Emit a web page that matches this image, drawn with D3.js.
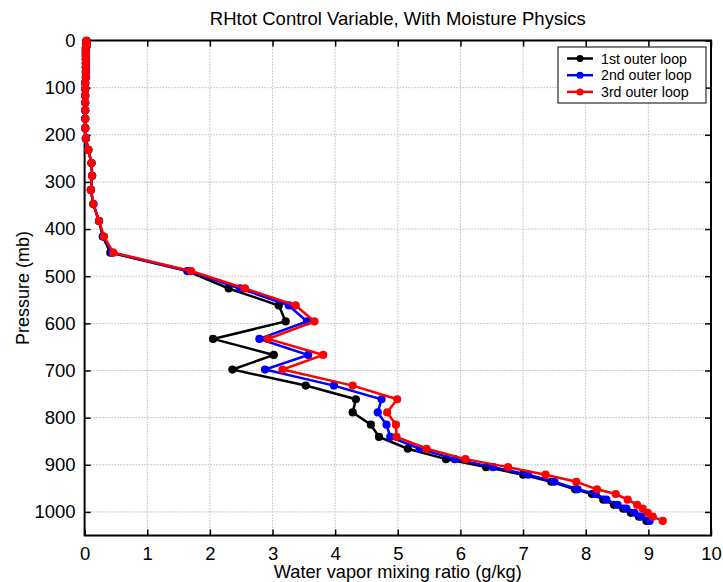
<!DOCTYPE html>
<html>
  <head>
    <meta charset="utf-8">
    <title>RHtot Control Variable</title>
    <script src="https://d3js.org/d3.v7.min.js"></script>
    <style>
      body { margin: 0; background: #fff; }
      text { font-family: "Liberation Sans", Arial, sans-serif; fill: #000; }
    </style>
  </head>
  <body>
    <svg width="723" height="582"></svg>

    <script>
      // pressure levels (mb), shared by all three runs
      const pressure = [1, 3, 5, 8, 12, 16, 21, 27, 33, 40, 48, 57, 67, 78, 90, 103, 117, 132, 148, 166, 186, 208,
        232, 260, 287, 317, 347, 383, 416, 450,
        489, 526, 562, 596, 633, 667, 698, 732,
        761, 789, 815, 841, 866, 888, 905, 921,
        936, 952, 962, 974, 985, 993, 1002, 1010, 1019];

      // water vapor mixing ratio (g/kg)
      const loop1 = [0.03, 0.03, 0.03, 0.03, 0.03, 0.02, 0.02, 0.02, 0.02, 0.02, 0.02, 0.02, 0.02, 0.02, 0.01, 0.01, 0.01, 0.01, 0.01, 0.01, 0.01, 0.02,
        0.06, 0.11, 0.12, 0.10, 0.14, 0.23, 0.29, 0.41,
        1.64, 2.30, 3.10, 3.21, 2.05, 3.02, 2.36, 3.53,
        4.33, 4.28, 4.57, 4.70, 5.16, 5.77, 6.41, 7.00,
        7.45, 7.83, 8.10, 8.28, 8.45, 8.60, 8.72, 8.85, 8.97];
      const loop2 = [0.03, 0.03, 0.03, 0.03, 0.03, 0.02, 0.02, 0.02, 0.02, 0.02, 0.02, 0.02, 0.02, 0.02, 0.01, 0.01, 0.01, 0.01, 0.01, 0.01, 0.01, 0.02,
        0.06, 0.11, 0.12, 0.10, 0.14, 0.23, 0.30, 0.44,
        1.66, 2.48, 3.26, 3.55, 2.79, 3.57, 2.88, 3.98,
        4.74, 4.68, 4.82, 4.88, 5.35, 5.91, 6.52, 7.08,
        7.50, 7.87, 8.16, 8.33, 8.51, 8.65, 8.78, 8.89, 9.02];
      const loop3 = [0.03, 0.03, 0.03, 0.03, 0.03, 0.02, 0.02, 0.02, 0.02, 0.02, 0.02, 0.02, 0.02, 0.02, 0.01, 0.01, 0.01, 0.01, 0.01, 0.01, 0.01, 0.02,
        0.06, 0.11, 0.12, 0.10, 0.14, 0.23, 0.31, 0.46,
        1.70, 2.56, 3.37, 3.67, 2.93, 3.81, 3.16, 4.28,
        4.99, 4.83, 4.97, 4.98, 5.46, 6.08, 6.76, 7.36,
        7.85, 8.18, 8.48, 8.67, 8.82, 8.91, 8.99, 9.07, 9.23];

      const seriesNames = ["1st outer loop", "2nd outer loop", "3rd outer loop"];
      const seriesColors = ["#000000", "#0000ff", "#ff0000"];
      const seriesValues = [loop1, loop2, loop3];

      const xTicks = [0, 1, 2, 3, 4, 5, 6, 7, 8, 9, 10];
      const yTicks = [0, 100, 200, 300, 400, 500, 600, 700, 800, 900, 1000];

      const pLeft = 84.6, pRight = 711, pTop = 40.5, pBottom = 535.5;

      const svg = d3.select("svg");

      const x = d3.scaleLinear().domain([0, 10]).range([pLeft, pRight]);
      const y = d3.scaleLinear().domain([0, 1050]).range([pTop, pBottom]);

      // grid
      const grid = svg.append("g");
      grid.selectAll(".gx").data(xTicks.slice(1, -1)).join("line")
        .attr("x1", d => x(d)).attr("x2", d => x(d))
        .attr("y1", pTop).attr("y2", pBottom)
        .attr("stroke", "#999").attr("stroke-dasharray", "1,2");
      grid.selectAll(".gy").data(yTicks.slice(1)).join("line")
        .attr("x1", pLeft).attr("x2", pRight)
        .attr("y1", d => y(d)).attr("y2", d => y(d))
        .attr("stroke", "#999").attr("stroke-dasharray", "1,2");

      // axes (ticks pointing inward, on all four sides)
      const fmt = d3.format("d");
      const ax = (g) => g.call(s => s.select(".domain").remove())
        .call(s => s.selectAll("line").attr("stroke", "#000").attr("stroke-width", 1.5))
        .call(s => s.selectAll("text").style("font-family", "Liberation Sans, Arial, sans-serif")
          .style("font-size", "18.5px").attr("fill", "#000"));

      svg.append("g").attr("transform", `translate(0,${pBottom})`)
        .call(d3.axisBottom(x).tickValues(xTicks).tickFormat(fmt).tickSizeInner(-6).tickPadding(11))
        .call(ax);
      svg.append("g").attr("transform", `translate(0,${pTop})`)
        .call(d3.axisTop(x).tickValues(xTicks).tickFormat("").tickSizeInner(-6))
        .call(ax);
      svg.append("g").attr("transform", `translate(${pLeft},0)`)
        .call(d3.axisLeft(y).tickValues(yTicks).tickFormat(fmt).tickSizeInner(-6).tickPadding(9))
        .call(ax);
      svg.append("g").attr("transform", `translate(${pRight},0)`)
        .call(d3.axisRight(y).tickValues(yTicks).tickFormat("").tickSizeInner(-6))
        .call(ax);

      svg.append("rect")
        .attr("x", pLeft).attr("y", pTop)
        .attr("width", pRight - pLeft).attr("height", pBottom - pTop)
        .attr("fill", "none").attr("stroke", "#000").attr("stroke-width", 2);

      // lines + markers
      const line = d3.line()
        .x(d => x(d[0]))
        .y(d => y(d[1]));

      seriesValues.forEach((vals, i) => {
        const pts = vals.map((v, k) => [v, pressure[k]]);
        svg.append("path")
          .datum(pts)
          .attr("fill", "none")
          .attr("stroke", seriesColors[i])
          .attr("stroke-width", 2.5)
          .attr("d", line);
        svg.append("g").selectAll("circle").data(pts).join("circle")
          .attr("cx", d => x(d[0]))
          .attr("cy", d => y(d[1]))
          .attr("r", 4.1)
          .attr("fill", seriesColors[i]);
      });

      // title and axis labels
      svg.append("text")
        .attr("x", (pLeft + pRight) / 2).attr("y", 25)
        .attr("text-anchor", "middle")
        .style("font-size", "18.5px")
        .text("RHtot Control Variable, With Moisture Physics");

      svg.append("text")
        .attr("x", (pLeft + pRight) / 2).attr("y", 578)
        .attr("text-anchor", "middle")
        .style("font-size", "18.2px")
        .text("Water vapor mixing ratio (g/kg)");

      svg.append("text")
        .attr("transform", `translate(29,${(pTop + pBottom) / 2}) rotate(-90)`)
        .attr("text-anchor", "middle")
        .style("font-size", "18px")
        .text("Pressure (mb)");

      // legend
      const legend = svg.append("g").attr("transform", "translate(558,47)");
      legend.append("rect")
        .attr("width", 148).attr("height", 56)
        .attr("fill", "#fff").attr("stroke", "#000").attr("stroke-width", 1);

      seriesNames.forEach((name, i) => {
        const ry = 11.5 + i * 16.7;
        legend.append("line")
          .attr("x1", 9).attr("x2", 35)
          .attr("y1", ry).attr("y2", ry)
          .attr("stroke", seriesColors[i]).attr("stroke-width", 2.5);
        legend.append("circle")
          .attr("cx", 22).attr("cy", ry).attr("r", 3.5)
          .attr("fill", seriesColors[i]);
        legend.append("text")
          .attr("x", 43).attr("y", ry + 5)
          .style("font-size", "14.2px")
          .text(name);
      });
    </script>
  </body>
</html>
